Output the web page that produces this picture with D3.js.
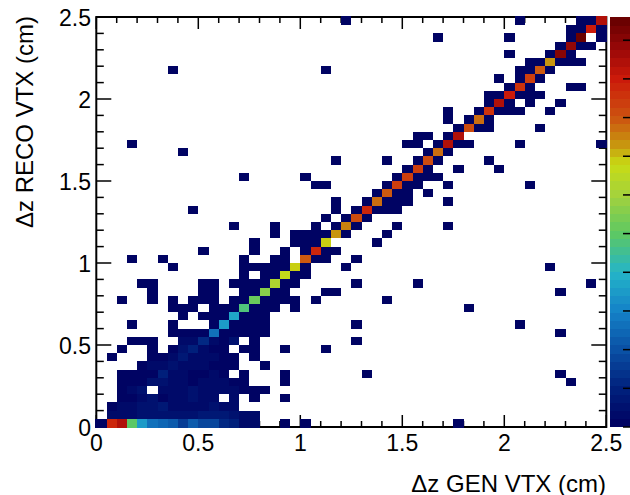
<!DOCTYPE html>
<html>
<head>
<meta charset="utf-8">
<script src="https://cdn.jsdelivr.net/npm/d3@7"></script>
<style>
  html, body { margin: 0; padding: 0; background: #fff; }
  svg { display: block; }
  text { font-family: "Liberation Sans", Helvetica, Arial, sans-serif; fill: #000; }
</style>
</head>
<body>
<script>
// 50 x 50 bins of 0.05 cm, each list below is one row of reco bins from dz=0 upwards
var binCols = [
  [0,1,2,3,4,5,6,7,8,9,10,11,12,13,14,15,18,20,35],
  [1,2,3,4,5,6,7,8,9,10,11,12,13,14,15],
  [1,2,3,4,5,6,7,8,9,10,11,12,13],
  [2,3,4,5,6,7,8,9,10,11,13,15,18],
  [2,3,4,6,7,8,9,10,11,12,13,14,15,16],
  [2,3,4,5,6,7,8,9,10,11,12,13,14,18,46],
  [2,3,4,5,6,7,8,9,10,11,12,14,18,26,45],
  [4,5,6,7,8,9,10,11,12,13,16],
  [1,5,6,7,8,9,10,11,12,13,15],
  [2,5,7,8,9,10,11,12,14,15,18,22],
  [3,4,5,8,9,10,11,12,13,15,25],
  [7,8,9,10,11,12,13,14,15,16,45],
  [3,7,11,12,13,14,15,16,25,41],
  [8,10,11,12,13,14,15,16],
  [7,8,9,11,12,13,14,15,16,17,19,36],
  [2,5,7,9,10,11,13,14,15,16,17,18,19,21,28],
  [5,10,11,14,15,16,17,18,22,23,45],
  [4,5,10,11,13,14,15,16,17,18,19,25,31,48],
  [14,16,17,18,19,20],
  [7,14,15,16,17,18,19,20,24,44],
  [3,6,14,17,18,20,21,22,25],
  [10,15,18,20,21,22,23],
  [15,19,20,21,22,27],
  [17,19,20,21,22,23,24,28],
  [13,17,21,23,24,25,29,34],
  [22,24,25,26],
  [9,23,25,26,27,28,29],
  [23,26,27,28,29,30,34],
  [27,28,29,30,32],
  [21,22,28,29,30,31,34,42],
  [14,20,29,30,31,32,33],
  [30,31,32,35,39],
  [23,28,31,32,33,38],
  [8,32,33,34],
  [3,30,31,33,34,35,36,41,49],
  [31,32,34,35],
  [35,36,37,38,43],
  [34,36,37,38],
  [34,37,38,39,40,41,44],
  [38,39,40,42,45],
  [38,39,40,41,42,43],
  [40,41,42,46,47],
  [39,41,42,43],
  [7,22,41,42,43,44],
  [42,43,44,45,46,47],
  [40,44,45,46],
  [45,46,47,48],
  [33,40,46,47,49],
  [46,47,48,49],
  [24,41,47,48,49]
];

// entries of the diagonal, bin 0 to 49 (0 = take the low counts)
var diagCounts = [0,0,0,0,0,0,0,0,0,0,6,13,17,19,24,26,28,31,33,34.5,
  40,44.5,34,36.5,38,41,44,39,40,42,42,42,41,38.5,47.5,47,41,39,43,47,
  45,43,42,40,36.5,50,49.5,52,45,47];

// first row, it holds most of the low gen dz events
var firstRowCounts = [1,44,47,25,18,13,12.5,11.5,8,11,8.5,8.5,6,5,2,2];

// counts in the crowded corner, by row then column ("." keeps 1)
var cornerCounts = [
  "",
  ".2223333334443222",
  ".1223342222322",
  "..1123122322.2",
  "..123.2223222211",
  "..111332212221",
  "..11115221121",
  "....1223222111",
  ".....1124222",
  ".......135211",
  "........22.2132"
];

var zTicks = [0,5,10,15,20,25,30,35,40,45,50];
var zMax = 53;
var xLabels = ["0","0.5","1","1.5","2","2.5"];
var yLabels = ["0","0.5","1","1.5","2","2.5"];

var width = 630, height = 495;
var binSize = 0.05;

var svg = d3.select("body").append("svg").attr("width",width).attr("height",height);

var x = d3.scaleLinear().domain([0,2.5]).range([96.3,606.3]);
var y = d3.scaleLinear().domain([0,2.5]).range([427,17]);
var z = d3.scaleLinear().domain([0,zMax]).range([427,17]);

// root style rainbow
var rainbow = d3.scaleLinear()
  .domain([0,5,10,15,20,25,30,34,36.5,40,45,49,53])
  .range(["#000060","#00207c","#0a50a4","#1482c8","#24b4c8","#5cc864","#a4d23c","#c8dc14","#c8960f","#cc5410","#cc1a0a","#980808","#640000"]);
var nBands = 50;
function bandColor(v){
  var b = Math.min(nBands-1,Math.floor(v/zMax*nBands));
  return rainbow((b+0.5)*zMax/nBands);
}

function binCount(row,col){
  if(row === 0) return col < firstRowCounts.length ? firstRowCounts[col] : 1;
  if(col === row && diagCounts[row] > 0) return diagCounts[row];
  var s = cornerCounts[row];
  if(s && s[col] && s[col] !== ".") return Number(s[col]);
  return 1;
}

var bins = [];
binCols.forEach(function(cols,row){
  cols.forEach(function(col){
    bins.push({col:col,row:row,v:binCount(row,col)});
  });
});

// ticks on all four sides, pointing inwards
var minor = d3.range(0,2.5001,0.1);
var major = d3.range(0,2.5001,0.5);

function tickLen(d,a,b){ return Math.abs(d*2 - Math.round(d*2)) < 1e-6 ? a : b; }

var tickG = svg.append("g").attr("class","ticks").attr("stroke","#000").attr("stroke-width",1.5);
tickG.selectAll(".xb").data(minor).enter().append("line")
  .attr("x1",function(d){ return x(d); }).attr("x2",function(d){ return x(d); })
  .attr("y1",y(0)).attr("y2",function(d){ return y(0)-tickLen(d,12,6); });
tickG.selectAll(".xt").data(minor).enter().append("line")
  .attr("x1",function(d){ return x(d); }).attr("x2",function(d){ return x(d); })
  .attr("y1",y(2.5)).attr("y2",function(d){ return y(2.5)+tickLen(d,12,6); });
tickG.selectAll(".yl").data(minor).enter().append("line")
  .attr("y1",function(d){ return y(d); }).attr("y2",function(d){ return y(d); })
  .attr("x1",x(0)).attr("x2",function(d){ return x(0)+tickLen(d,15,7.5); });
tickG.selectAll(".yr").data(minor).enter().append("line")
  .attr("y1",function(d){ return y(d); }).attr("y2",function(d){ return y(d); })
  .attr("x1",x(2.5)).attr("x2",function(d){ return x(2.5)-tickLen(d,15,7.5); });

svg.append("rect")
  .attr("x",x(0)).attr("y",y(2.5))
  .attr("width",x(2.5)-x(0)).attr("height",y(0)-y(2.5))
  .attr("fill","none").attr("stroke","#000").attr("stroke-width",2);

// the histogram sits on top of the frame, edge bins hide it
function edgeLeft(d){ return d.col === 0 ? 1 : 0; }
function edgeRight(d){ return d.col === 49 ? 1 : 0; }
function edgeTop(d){ return d.row === 49 ? 1 : 0; }
function edgeBottom(d){ return d.row === 0 ? 1 : 0; }

svg.append("g").attr("class","bins").attr("shape-rendering","crispEdges")
  .selectAll("rect")
  .data(bins)
  .enter().append("rect")
    .attr("x",function(d){ return x(d.col*binSize)-edgeLeft(d); })
    .attr("y",function(d){ return y((d.row+1)*binSize)-edgeTop(d); })
    .attr("width",function(d){ return x(binSize)-x(0)+edgeLeft(d)+edgeRight(d); })
    .attr("height",function(d){ return y(0)-y(binSize)+edgeTop(d)+edgeBottom(d); })
    .attr("fill",function(d){ return bandColor(d.v); });

// colour bar
var bands = d3.range(nBands);
svg.append("g").attr("class","palette").attr("shape-rendering","crispEdges")
  .selectAll("rect")
  .data(bands)
  .enter().append("rect")
    .attr("x",609.5)
    .attr("y",function(d){ return z((d+1)*zMax/nBands); })
    .attr("width",21)
    .attr("height",z(0)-z(zMax/nBands)+0.4)
    .attr("fill",function(d){ return rainbow((d+0.5)*zMax/nBands); });

svg.append("g").attr("class","palette-ticks")
  .selectAll("line")
  .data(zTicks)
  .enter().append("line")
    .attr("x1",623).attr("x2",630)
    .attr("y1",function(d){ return z(d); })
    .attr("y2",function(d){ return z(d); })
    .attr("stroke","#000").attr("stroke-width",1.5);

// labels
svg.append("g").selectAll("text")
  .data(major)
  .enter().append("text")
    .attr("x",function(d){ return x(d); })
    .attr("y",450.7)
    .attr("text-anchor","middle")
    .attr("font-size",23)
    .text(function(d,i){ return xLabels[i]; });

svg.append("g").selectAll("text")
  .data(major)
  .enter().append("text")
    .attr("x",91)
    .attr("y",function(d){ return y(d)+9; })
    .attr("text-anchor","end")
    .attr("font-size",23)
    .text(function(d,i){ return yLabels[i]; });

svg.append("text")
  .attr("x",606).attr("y",491.5)
  .attr("text-anchor","end")
  .attr("font-size",24)
  .text("Δz GEN VTX (cm)");

svg.append("text")
  .attr("transform","translate(32.7,16) rotate(-90)")
  .attr("text-anchor","end")
  .attr("font-size",24)
  .text("Δz RECO VTX (cm)");
</script>
</body>
</html>
